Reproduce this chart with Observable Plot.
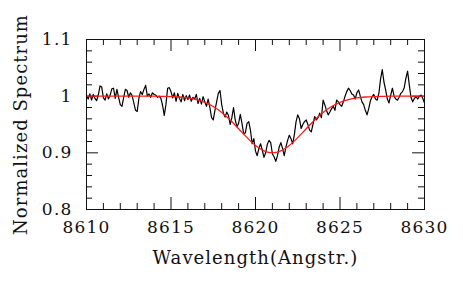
<!DOCTYPE html>
<html>
<head>
<meta charset="utf-8">
<script src="https://cdn.jsdelivr.net/npm/d3@7"></script>
<script src="https://cdn.jsdelivr.net/npm/@observablehq/plot@0.6"></script>
<style>
  html, body { margin: 0; padding: 0; background: #fff; }
  svg g[aria-label$="tick label"] { font-size: 17px; letter-spacing: 1.2px; }
  svg g[aria-label="x-axis label"], svg g[aria-label="y-axis label"] { font-size: 18px; letter-spacing: 1.05px; }
</style>
</head>
<body>
<div id="chart"></div>
<script>
// Observed spectrum, 8610.0 .. 8630.0 Å in 0.1 Å steps
const wlStart = 8610.0;
const wlStep = 0.1;
const fluxObserved = [
  1.000, 0.995, 1.004, 0.993, 1.003, 0.996, 0.992, 1.002, 1.018, 1.016,
  0.997, 0.993, 1.004, 0.995, 1.002, 1.013, 1.014, 0.996, 1.012, 0.998,
  0.985, 0.982, 0.998, 1.012, 1.010, 0.998, 1.006, 1.001, 0.988, 0.975,
  0.973, 0.996, 1.008, 1.003, 1.012, 1.019, 1.000, 1.004, 0.998, 1.006,
  1.003, 1.002, 0.998, 1.000, 0.996, 0.984, 0.966, 0.985, 1.014, 1.015,
  1.008, 0.997, 1.006, 0.991, 1.005, 0.996, 0.990, 1.003, 0.992, 1.001,
  0.994, 1.002, 0.991, 0.998, 0.995, 1.003, 0.987, 0.996, 0.986, 0.999,
  0.990, 0.982, 0.995, 0.980, 0.962, 0.958, 0.975, 0.990, 1.005, 1.010,
  0.985, 0.970, 0.963, 0.972, 0.966, 0.950, 0.962, 0.980, 0.958, 0.946,
  0.952, 0.968, 0.952, 0.934, 0.935, 0.952, 0.955, 0.940, 0.916, 0.925,
  0.903, 0.895, 0.908, 0.916, 0.905, 0.892, 0.900, 0.915, 0.922, 0.918,
  0.898, 0.893, 0.885, 0.895, 0.910, 0.918, 0.908, 0.895, 0.910, 0.922,
  0.931, 0.925, 0.916, 0.932, 0.955, 0.967, 0.960, 0.943, 0.950, 0.955,
  0.958, 0.950, 0.940, 0.937, 0.950, 0.964, 0.958, 0.962, 0.970, 0.962,
  0.993, 0.985, 0.975, 0.967, 0.972, 0.978, 0.982, 0.975, 0.993, 0.990,
  0.985, 0.982, 0.990, 1.000, 1.008, 1.014, 1.010, 1.004, 1.002, 0.995,
  1.006, 1.011, 1.000, 0.990, 0.985, 0.975, 0.967, 0.978, 0.992, 0.999,
  1.003, 0.995, 0.993, 1.005, 1.030, 1.047, 1.025, 1.011, 0.995, 0.988,
  1.002, 1.014, 1.000, 0.995, 0.993, 0.998, 1.005, 1.008, 1.015, 1.032,
  1.044, 1.020, 0.998, 0.990, 0.996, 0.999, 0.995, 1.000, 1.002, 0.996,
  0.988
];

// Fitted profile (red), 8610.0 .. 8630.0 Å in 0.5 Å steps
const fitStep = 0.5;
const fluxFit = [
  1.000, 1.000, 1.000, 1.000, 1.000, 1.000, 1.000, 1.000, 1.000, 0.9997,
  0.9993, 0.9985, 0.9969, 0.9939, 0.9891, 0.9817, 0.9712, 0.9579, 0.9425, 0.9268,
  0.9129, 0.9034, 0.9000, 0.9034, 0.9129, 0.9268, 0.9425, 0.9579, 0.9712, 0.9817,
  0.9891, 0.9939, 0.9969, 0.9985, 0.9993, 0.9997, 1.000, 1.000, 1.000, 1.000,
  1.000
];

const xMajorTicks = [8610, 8615, 8620, 8625, 8630];
const xTickLabels = ["8610", "8615", "8620", "8625", "8630"];
const xMinorTicks = [8611, 8612, 8613, 8614, 8616, 8617, 8618, 8619, 8621, 8622, 8623, 8624, 8626, 8627, 8628, 8629];
const yMajorTicks = [0.8, 0.9, 1.0, 1.1];
const yTickLabels = ["0.8", "0.9", "1", "1.1"];
const yMinorTicks = [0.82, 0.84, 0.86, 0.88, 0.92, 0.94, 0.96, 0.98, 1.02, 1.04, 1.06, 1.08];
const xLabel = "Wavelength(Angstr.)";
const yLabel = "Normalized Spectrum";

const spectrum = fluxObserved.map((f, i) => ({wl: wlStart + i * wlStep, flux: f}));
const fit = fluxFit.map((f, i) => ({wl: wlStart + i * fitStep, flux: f}));

const W = 463, H = 302;
const mL = 86, mR = 39, mT = 39, mB = 93;
const innerH = H - mT - mB, innerW = W - mL - mR;
const majLen = 12, minLen = 6;
const ink = "#111";

const chart = Plot.plot({
  width: W,
  height: H,
  marginLeft: mL,
  marginRight: mR,
  marginTop: mT,
  marginBottom: mB,
  style: {fontFamily: "DejaVu Serif", fontSize: "18px", color: ink, background: "#fff"},
  x: {domain: [8610, 8630]},
  y: {domain: [0.8, 1.1]},
  marks: [
    // ticks (inward, all four sides)
    Plot.ruleX(xMajorTicks, {x: d => d, stroke: ink, insetTop: innerH - majLen}),
    Plot.ruleX(xMajorTicks, {x: d => d, stroke: ink, insetBottom: innerH - majLen}),
    Plot.ruleX(xMinorTicks, {x: d => d, stroke: ink, insetTop: innerH - minLen}),
    Plot.ruleX(xMinorTicks, {x: d => d, stroke: ink, insetBottom: innerH - minLen}),
    Plot.ruleY(yMajorTicks, {y: d => d, stroke: ink, insetRight: innerW - majLen}),
    Plot.ruleY(yMajorTicks, {y: d => d, stroke: ink, insetLeft: innerW - majLen}),
    Plot.ruleY(yMinorTicks, {y: d => d, stroke: ink, insetRight: innerW - minLen}),
    Plot.ruleY(yMinorTicks, {y: d => d, stroke: ink, insetLeft: innerW - minLen}),
    Plot.axisX(xMajorTicks, {
      anchor: "bottom", tickSize: 0, tickPadding: 11,
      tickFormat: (d, i) => xTickLabels[i],
      label: null
    }),
    Plot.axisX({
      anchor: "bottom", ticks: [], tickSize: 0,
      label: xLabel, labelAnchor: "center", labelArrow: "none", labelOffset: 54
    }),
    Plot.axisY(yMajorTicks, {
      anchor: "left", tickSize: 0, tickPadding: 14,
      tickFormat: (d, i) => yTickLabels[i],
      label: null
    }),
    Plot.axisY({
      anchor: "left", ticks: [], tickSize: 0,
      label: yLabel, labelAnchor: "center", labelArrow: "none", labelOffset: 72
    }),
    Plot.line(spectrum, {x: "wl", y: "flux", stroke: "#000", strokeWidth: 1.2}),
    Plot.line(fit, {x: "wl", y: "flux", stroke: "#ff1a1a", strokeWidth: 1.3, curve: "catmull-rom"}),
    Plot.frame({stroke: ink, strokeWidth: 1})
  ]
});
document.getElementById("chart").appendChild(chart);
</script>
</body>
</html>
